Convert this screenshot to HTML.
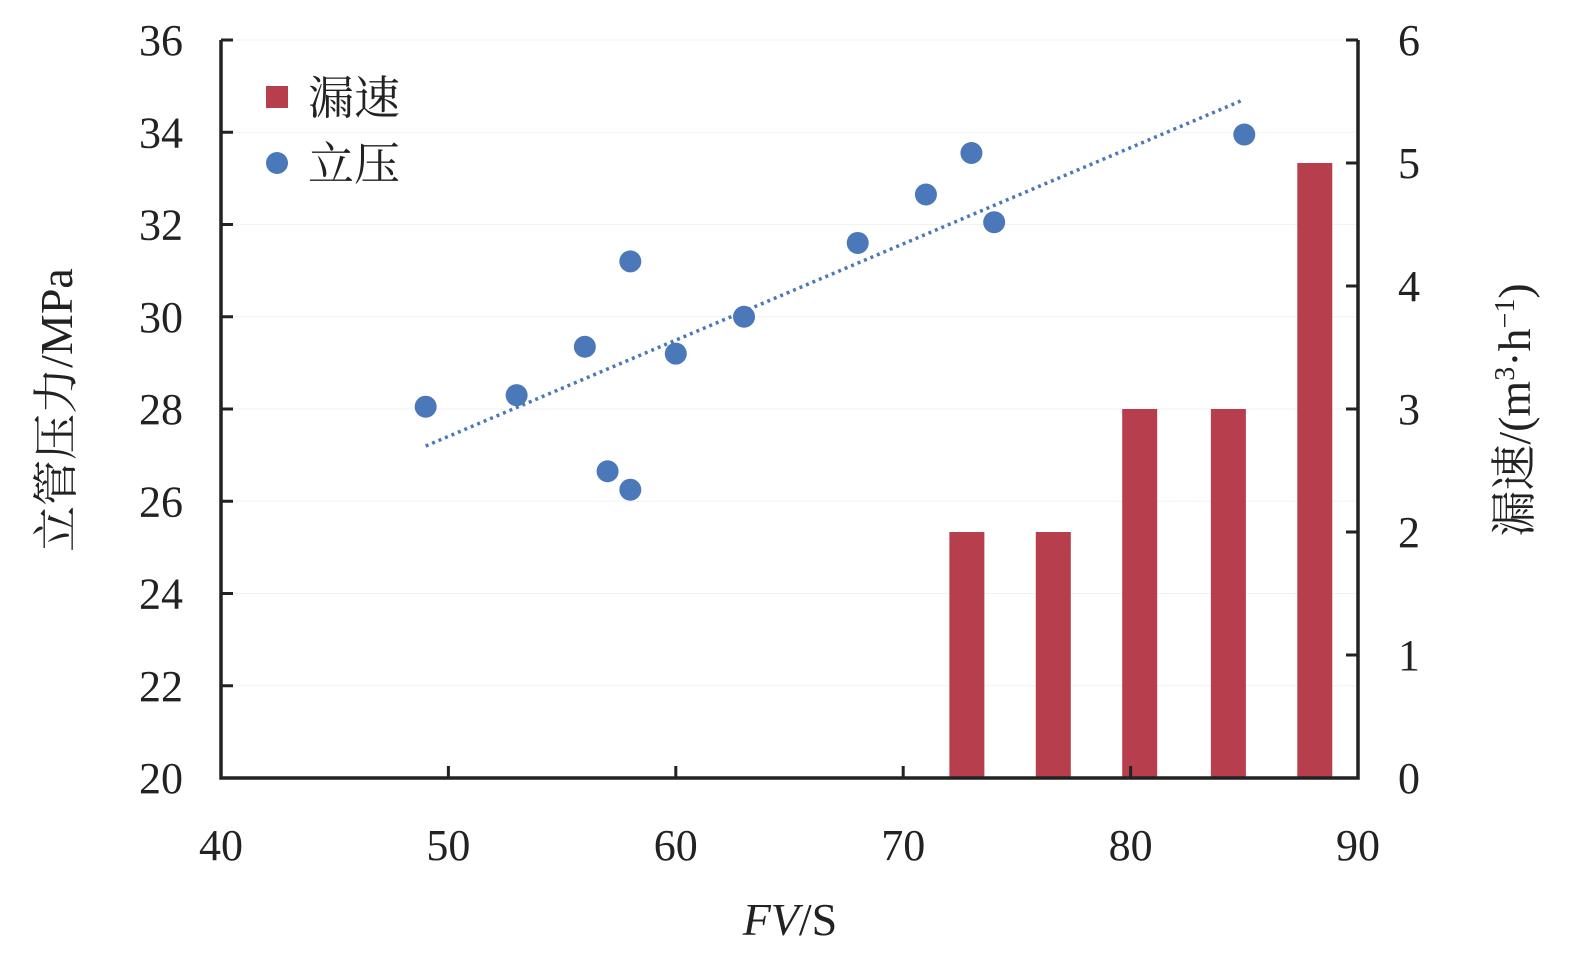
<!DOCTYPE html>
<html><head><meta charset="utf-8"><style>
html,body{margin:0;padding:0;background:#fff;}
svg{display:block;font-family:"Liberation Serif","Noto Serif CJK SC",serif;}
</style></head><body>
<svg id="chart" width="1575" height="968" viewBox="0 0 1575 968"></svg>
<script>
const barX=[72.8,76.6,80.4,84.3,88.1];
const barVals=[2,2,3,3,5];
const ptX=[49,53,56,57,58,58,60,63,68,71,73,74,85];
const ptY=[28.05,28.3,29.35,26.65,31.2,26.25,29.2,30,31.6,32.65,33.55,32.05,33.95];
const xTicks=[40,50,60,70,80,90];
const yTicks=[20,22,24,26,28,30,32,34,36];
const y2Ticks=[0,1,2,3,4,5,6];

const NS="http://www.w3.org/2000/svg";
const svg=document.getElementById('chart');
const L=221,R=1358,T=40,B=778;
const sx=v=>L+(v-40)/50*(R-L);
const sy=v=>B-(v-20)/16*(B-T);
const sy2=v=>B-v/6*(B-T);
function mk(t,a,p){const e=document.createElementNS(NS,t);for(const k in a)e.setAttribute(k,a[k]);(p||svg).appendChild(e);return e;}

// gridlines faint
yTicks.forEach(v=>{const g=mk('line',{x1:L,x2:R,y1:sy(v),y2:sy(v),stroke:'#f2f2f2','stroke-width':1});

});

// bars
barX.forEach((x,i)=>{const h=B-sy2(barVals[i]);const r=mk('rect',{x:sx(x)-17.5,y:sy2(barVals[i]),width:35,height:h,fill:'#b73e4c'});

});

// trendline (least squares)
const n=ptX.length;let mx=0,my=0;ptX.forEach((x,i)=>{mx+=x;my+=ptY[i];});mx/=n;my/=n;
let sxy=0,sxx=0;ptX.forEach((x,i)=>{sxy+=(x-mx)*(ptY[i]-my);sxx+=(x-mx)*(x-mx);});
const slope=sxy/sxx,icp=my-slope*mx;
const x0=Math.min(...ptX),x1=Math.max(...ptX);
const tl=mk('line',{x1:sx(x0),y1:sy(icp+slope*x0),x2:sx(x1),y2:sy(icp+slope*x1),stroke:'#4a78b8','stroke-width':3.5,'stroke-dasharray':'3 4'});



// points
ptX.forEach((x,i)=>{const c=mk('circle',{cx:sx(x),cy:sy(ptY[i]),r:11,fill:'#4a78b8'});

});

// axes
const ax=mk('path',{d:`M${L},${T} L${L},${B} L${R},${B} L${R},${T}`,fill:'none',stroke:'#222','stroke-width':3.5});



xTicks.forEach(v=>{mk('line',{x1:sx(v),x2:sx(v),y1:B,y2:B-12,stroke:'#222','stroke-width':3});
const t=mk('text',{x:sx(v),y:B+82,'text-anchor':'middle','font-size':44,fill:'#222'});t.textContent=v;

});
yTicks.forEach(v=>{mk('line',{x1:L,x2:L+12,y1:sy(v),y2:sy(v),stroke:'#222','stroke-width':3});
const t=mk('text',{x:L-38,y:sy(v)+15,'text-anchor':'end','font-size':44,fill:'#222'});t.textContent=v;

});
y2Ticks.forEach(v=>{mk('line',{x1:R,x2:R-12,y1:sy2(v),y2:sy2(v),stroke:'#222','stroke-width':3});
const t=mk('text',{x:R+40,y:sy2(v)+15,'text-anchor':'start','font-size':44,fill:'#222'});t.textContent=v;

});
</script>
<svg width="0" height="0"></svg>
<div style="position:absolute;left:0;top:0;width:1575px;height:968px;pointer-events:none;">
<svg width="1575" height="968" style="position:absolute;left:0;top:0;font-family:'Liberation Serif','Noto Serif CJK SC',serif;">
<g>
<rect x="266" y="86" width="22" height="22" fill="#b73e4c"/>
<text x="308" y="114" font-size="46" fill="#222">漏速</text>
<circle cx="277" cy="163" r="11" fill="#4a78b8"/>
<text x="308" y="180" font-size="46" fill="#222">立压</text>
</g>
<text x="790" y="935" text-anchor="middle" font-size="46" fill="#222"><tspan font-style="italic">FV</tspan>/S</text>
<text transform="translate(72,410) rotate(-90)" text-anchor="middle" font-size="46" fill="#222">立管压力/MPa</text>
<text transform="translate(1530,410) rotate(-90)" text-anchor="middle" font-size="46" fill="#222">漏速/(m<tspan font-size="28" dy="-16">3</tspan><tspan dy="16">·h</tspan><tspan font-size="28" dy="-16">−1</tspan><tspan dy="16">)</tspan></text>
</svg></div>
</body></html>
